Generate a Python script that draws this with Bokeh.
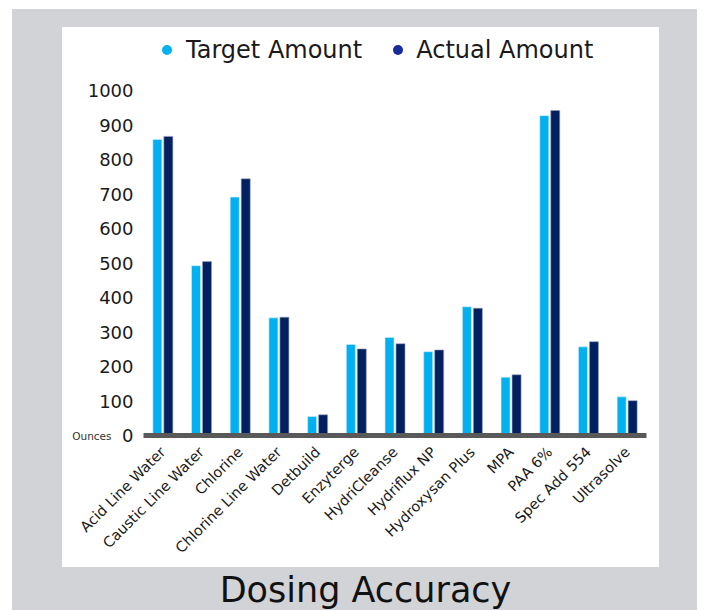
from bokeh.plotting import figure
from bokeh.models import FactorRange, Range1d, Div, FixedTicker, ColumnDataSource, LinearAxis
from bokeh.transform import dodge
from bokeh.layouts import column
from bokeh.embed import file_html
from bokeh.resources import INLINE
import math

categories = ["Acid Line Water", "Caustic Line Water", "Chlorine", "Chlorine Line Water",
              "Detbuild", "Enzyterge", "HydriCleanse", "Hydriflux NP", "Hydroxysan Plus",
              "MPA", "PAA 6%", "Spec Add 554", "Ultrasolve"]
target_amount = [858, 492, 691, 341, 55, 264, 284, 243, 373, 169, 927, 257, 112]
actual_amount = [867, 504, 744, 343, 60, 251, 266, 248, 369, 176, 942, 272, 101]
y_ticks = [0, 100, 200, 300, 400, 500, 600, 700, 800, 900, 1000]
series_names = ["Target Amount", "Actual Amount"]
unit_label = "Ounces"

FONT = "DejaVu Sans"
GRAY = "#d1d3d6"
TARGET_C = "#00b0f0"
ACTUAL_C = "#002060"
ACTUAL_DOT = "#1a2a9a"

src = ColumnDataSource(dict(cat=categories, target=target_amount, actual=actual_amount))

p = figure(x_range=FactorRange(*categories, range_padding=0), y_range=Range1d(0, 1000),
           width=597, height=495, output_backend="svg", toolbar_location=None,
           min_border_left=81, min_border_right=13, min_border_top=18, min_border_bottom=132)
p.background_fill_color = "white"
p.border_fill_color = "white"
p.outline_line_color = None
p.grid.visible = False

p.vbar(x=dodge("cat", -0.142, range=p.x_range), top="target", width=0.233, source=src,
       fill_color=TARGET_C, line_color="#cfeefb", line_width=0.6)
p.vbar(x=dodge("cat", 0.142, range=p.x_range), top="actual", width=0.233, source=src,
       fill_color=ACTUAL_C, line_color="#9aa3bd", line_width=0.6)

# x axis
p.xaxis.axis_line_color = "#595959"
p.xaxis.axis_line_width = 5
p.xaxis.major_tick_line_color = None
p.xaxis.minor_tick_line_color = None
p.xaxis.major_label_orientation = math.pi / 4
p.xaxis.major_label_text_font = FONT
p.xaxis.major_label_text_font_size = "14.5px"
p.xaxis.major_label_text_color = "#1a1a1a"
p.xaxis.major_label_standoff = 8

# y axis
p.yaxis.ticker = FixedTicker(ticks=y_ticks)
p.yaxis.axis_line_color = None
p.yaxis.major_tick_line_color = None
p.yaxis.minor_tick_line_color = None
p.yaxis.major_tick_out = 0
p.yaxis.major_label_text_font = FONT
p.yaxis.major_label_text_font_size = "18px"
p.yaxis.major_label_text_color = "#1a1a1a"
p.yaxis.major_label_standoff = 10

# unit caption beside the zero tick, as a second left axis
unit_axis = LinearAxis(ticker=FixedTicker(ticks=[y_ticks[0]]),
                       major_label_overrides={y_ticks[0]: unit_label},
                       axis_line_color=None, major_tick_line_color=None,
                       minor_tick_line_color=None, major_tick_out=0,
                       major_label_standoff=-27, major_label_text_font=FONT,
                       major_label_text_font_size="10.5px", major_label_text_color="#333333")
p.add_layout(unit_axis, "left")

dot = ("<span style='display:inline-block;width:10px;height:10px;border-radius:50%;"
       "background:{c};margin-left:{ml}px;margin-right:{mr}px;vertical-align:middle'></span>")
legend_html = (
    "<div style='white-space:nowrap;font-family:\"DejaVu Sans\";font-size:24px;color:#1a1a1a;"
    "line-height:44px'>"
    + dot.format(c=TARGET_C, ml=100, mr=14) + "<span style='vertical-align:middle'>" + series_names[0] + "</span>"
    + dot.format(c=ACTUAL_DOT, ml=31, mr=13) + "<span style='vertical-align:middle'>" + series_names[1] + "</span>"
    + "</div>"
)
legend_div = Div(text=legend_html, width=597, height=45, margin=0)

panel = column(legend_div, p, width=597, height=540, margin=(18, 0, 0, 50),
               styles={"background-color": "white"})

title = Div(text="Dosing Accuracy", width=597, height=38, margin=(4, 0, 0, 55),
            styles={"font-family": FONT, "font-size": "35px", "color": "#111111",
                    "text-align": "center", "line-height": "38px"})

layout = column(panel, title, width=685, height=601, margin=(9, 0, 0, 12),
                styles={"background-color": GRAY})

open("out.html", "w").write(file_html(layout, INLINE))
